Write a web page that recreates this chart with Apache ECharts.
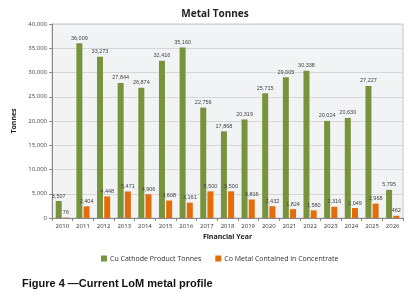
<!DOCTYPE html>
<html><head><meta charset="utf-8">
<script src="https://cdn.jsdelivr.net/npm/echarts@6/dist/echarts.min.js"></script>
<style>html,body{margin:0;padding:0;background:#fff;}#c{width:415px;height:301px;}</style>
</head><body><div id="c"></div>
<script>
var years = ['2010','2011','2012','2013','2014','2015','2016','2017','2018','2019','2020','2021','2022','2023','2024','2025','2026'];
var cuCathode = [3507,36009,33273,27844,26874,32416,35160,22756,17868,20319,25715,29005,30338,20024,20630,27227,5795];
var coMetal = [76,2404,4448,5471,4906,3608,3161,5500,5500,3816,2432,1824,1580,2316,2049,2968,462];
var yTicks = [0,5000,10000,15000,20000,25000,30000,35000,40000];

var chart = echarts.init(document.getElementById('c'), null, {renderer:'canvas'});
var fmt = function(v){return v.toLocaleString('en-US');};
var lblStyle = {show:true, position:'top', fontSize:5.5, color:'#444', fontFamily:'Liberation Sans', distance:2, formatter:function(p){return fmt(p.value);}};
chart.setOption({
  animation:false,
  title:{text:'Metal Tonnes', left:210, top:4, textAlign:'center', textStyle:{fontSize:10, fontWeight:'bold', color:'#222', fontFamily:'Open Sans'}},
  grid:{left:52, right:12, top:24, bottom:83, backgroundColor:'#f2f3f5', show:true, borderColor:'#c8c8c8', borderWidth:1},
  legend:{top:250, left:96, itemWidth:6, itemHeight:6, itemGap:14, icon:'rect', textStyle:{fontSize:7, color:'#333', fontFamily:'Open Sans', padding:[0,0,0,-2]},
    data:['Cu Cathode Product Tonnes','Co Metal Contained in Concentrate']},
  xAxis:{type:'category', data:years, name:'Financial Year', nameLocation:'middle', nameGap:14,
    nameTextStyle:{fontSize:7, fontWeight:'bold', color:'#222', fontFamily:'Open Sans'},
    axisLine:{lineStyle:{color:'#888'}}, axisTick:{show:true, alignWithLabel:false, length:3, lineStyle:{color:'#888'}},
    axisLabel:{fontSize:6, color:'#333', margin:5, fontFamily:'Open Sans'}},
  yAxis:{type:'value', min:0, max:40000, interval:5000, name:'Tonnes', nameLocation:'middle', nameGap:30, nameRotate:90,
    nameTextStyle:{fontSize:7, fontWeight:'bold', color:'#222', fontFamily:'Open Sans'},
    axisLine:{show:true, lineStyle:{color:'#888'}}, axisTick:{show:true, length:3, lineStyle:{color:'#888'}},
    splitLine:{lineStyle:{color:'#d6d6d6'}},
    axisLabel:{fontSize:6, color:'#444', margin:5, fontFamily:'Open Sans', formatter:function(v){return fmt(v);}}},
  series:[
    {name:'Cu Cathode Product Tonnes', type:'bar', data:cuCathode, barWidth:6, barGap:'20%', itemStyle:{color:'#77933c'}, label:lblStyle},
    {name:'Co Metal Contained in Concentrate', type:'bar', data:coMetal, barWidth:6, itemStyle:{color:'#e46c0a'}, label:lblStyle}
  ],
  graphic:[{type:'text', left:22, top:278, style:{text:'Figure 4 \u2014Current LoM metal profile', fontSize:11, fontWeight:'bold', fill:'#111', fontFamily:'Liberation Sans'}}]
});
</script></body></html>
